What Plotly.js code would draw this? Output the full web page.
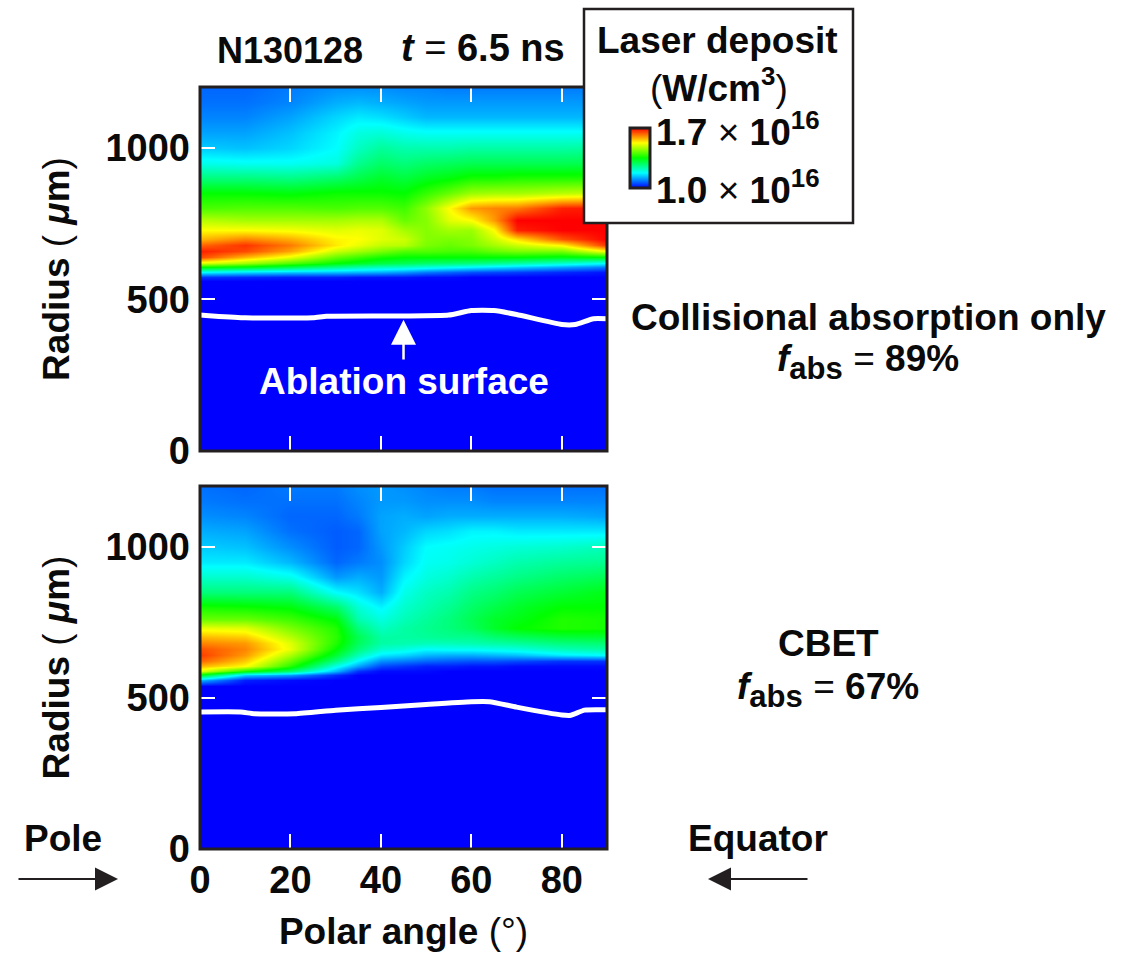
<!DOCTYPE html>
<html><head><meta charset="utf-8">
<script src="https://cdn.plot.ly/plotly-3.0.1.min.js"></script>
<style>html,body{margin:0;padding:0;background:#fff}#plot{width:1127px;height:953px}</style>
</head><body><div id="plot"></div>
<script>
// Polar angle samples (deg) and radius samples (um)
const angles = [0,10,20,30,35,40,45,50,55,60,65,70,80,90];
const radii  = [0,540,560,575,590,605,620,640,660,680,700,730,760,800,850,900,950,1000,1050,1100,1150,1200];

// Laser deposition as a fraction of the 1.0-1.7e16 scale; one row per polar angle
const collisional = [
 [0,0,0,.05,.25,.5,.72,.93,.97,.9,.82,.75,.68,.57,.5,.38,.27,.2,.16,.13,.11,.1],
 [0,0,0,.04,.22,.47,.66,.82,.93,.95,.87,.75,.66,.58,.5,.38,.26,.19,.16,.13,.11,.1],
 [0,0,0,.03,.2,.42,.58,.73,.84,.88,.83,.74,.66,.58,.49,.37,.26,.21,.19,.16,.13,.12],
 [0,0,0,.03,.19,.36,.5,.6,.7,.77,.76,.72,.66,.57,.51,.4,.28,.25,.24,.21,.17,.14],
 [0,0,0,.02,.18,.33,.47,.56,.66,.73,.75,.73,.67,.58,.51,.43,.36,.31,.28,.23,.18,.14],
 [0,0,0,.02,.17,.31,.44,.52,.62,.69,.72,.72,.67,.58,.51,.46,.4,.35,.29,.22,.17,.14],
 [0,0,0,.02,.15,.3,.42,.5,.58,.68,.7,.66,.6,.56,.5,.44,.38,.33,.27,.2,.16,.13],
 [0,0,0,.01,.12,.28,.4,.5,.58,.62,.63,.63,.63,.64,.55,.47,.4,.33,.26,.18,.15,.13],
 [0,0,0,.01,.1,.26,.39,.5,.57,.6,.62,.66,.72,.75,.6,.49,.41,.33,.26,.18,.15,.12],
 [0,0,0,0,.08,.24,.38,.5,.57,.62,.63,.65,.75,.85,.65,.52,.42,.34,.26,.18,.15,.12],
 [0,0,0,0,.07,.22,.36,.5,.6,.66,.7,.75,.85,.87,.66,.52,.42,.34,.26,.18,.15,.12],
 [0,0,0,0,.06,.2,.34,.5,.62,.7,.78,.97,1,.88,.66,.53,.42,.34,.26,.18,.15,.12],
 [0,0,0,0,.04,.16,.3,.48,.62,.76,.92,1,1,.97,.68,.53,.42,.34,.26,.18,.15,.12],
 [0,0,0,0,.02,.12,.25,.5,.75,.95,1,1,1,.98,.7,.53,.43,.35,.26,.18,.15,.12]
];
const cbet = [
 [0,0,.18,.47,.72,.82,.9,.94,.92,.87,.82,.73,.6,.52,.38,.3,.23,.2,.17,.14,.12,.11],
 [0,0,.03,.2,.52,.75,.8,.85,.87,.85,.8,.72,.6,.51,.38,.3,.23,.19,.16,.13,.11,.1],
 [0,0,.01,.15,.4,.54,.6,.67,.73,.72,.68,.62,.56,.49,.38,.27,.18,.14,.11,.1,.11,.12],
 [0,0,0,.04,.18,.27,.37,.45,.5,.53,.54,.53,.49,.4,.25,.15,.1,.09,.09,.1,.11,.12],
 [0,0,0,0,.05,.16,.24,.32,.38,.41,.42,.38,.33,.29,.22,.17,.12,.1,.1,.12,.13,.14],
 [0,0,0,0,.01,.07,.14,.23,.3,.34,.34,.31,.28,.24,.17,.15,.14,.15,.16,.16,.15,.15],
 [0,0,0,0,.01,.05,.12,.21,.28,.33,.34,.34,.32,.3,.27,.24,.21,.2,.18,.17,.15,.14],
 [0,0,0,0,.01,.03,.1,.18,.25,.32,.35,.36,.35,.33,.31,.28,.26,.25,.21,.16,.14,.13],
 [0,0,0,0,0,.03,.09,.17,.26,.32,.36,.38,.38,.36,.33,.3,.27,.26,.22,.17,.14,.12],
 [0,0,0,0,0,.02,.08,.17,.26,.33,.36,.41,.42,.4,.37,.33,.29,.27,.24,.17,.14,.12],
 [0,0,0,0,0,.02,.08,.18,.27,.34,.39,.46,.46,.43,.39,.35,.31,.28,.24,.17,.13,.11],
 [0,0,0,0,0,.01,.07,.19,.28,.35,.41,.5,.48,.46,.42,.37,.33,.29,.23,.17,.13,.11],
 [0,0,0,0,0,.01,.05,.23,.32,.38,.44,.53,.53,.5,.45,.4,.35,.3,.23,.17,.13,.11],
 [0,0,0,0,0,.01,.05,.25,.34,.39,.45,.52,.52,.5,.48,.42,.36,.32,.23,.16,.13,.11]
];

// Ablation surface radius (um) vs polar angle
const surfTopAngle = [0,2,10,25,28,45,55,60,65,70,80,83,87,90];
const surfTopRadius = [448,446,439,439,444,445,448,463,463,450,417,417,436,436];
const surfBotAngle = [0,9,12,21,30,40,50,60,64,70,80,82,85,90];
const surfBotRadius = [453,453,447,447,459,468,478,487,487,469,443,442,459,460];

const W = 1127, H = 953;
const px = v => v / W, py = v => 1 - v / H;
const FONT = 'Liberation Sans, Arial, sans-serif';
const INK = '#0a0a0a', FRAME = '#231f20';
const scale = [[0,'rgb(0,0,255)'],[.25,'rgb(0,255,255)'],[.5,'rgb(0,255,0)'],[.75,'rgb(255,255,0)'],[1,'rgb(255,0,0)']];
const toUnits = a => a.map(c => c.map(v => 1 + 0.7 * v));

function heat(byAngle, xa, ya, showscale) {
  const z = toUnits(radii.map((_, i) => byAngle.map(col => col[i])));
  return {type:'heatmap', x:angles, y:radii, z, xaxis:xa, yaxis:ya,
    zsmooth:'best', zmin:1, zmax:1.7, colorscale:scale, showscale:showscale, hoverinfo:'skip',
    colorbar: showscale ? {thickness:20, thicknessmode:'pixels', len:60, lenmode:'pixels',
      x:px(630), xanchor:'left', y:py(158), yanchor:'middle', xpad:0, ypad:0,
      showticklabels:false, ticks:'', outlinecolor:FRAME, outlinewidth:3, borderwidth:0} : undefined};
}
function surf(x, y, xa, ya) {
  return {type:'scatter', mode:'lines', x, y, xaxis:xa, yaxis:ya, hoverinfo:'skip',
    line:{color:'#fff', width:5, shape:'spline', smoothing:0.5}, showlegend:false};
}
const data = [
  heat(collisional,'x','y',true), surf(surfTopAngle,surfTopRadius,'x','y'),
  heat(cbet,'x2','y2',false), surf(surfBotAngle,surfBotRadius,'x2','y2')
];

const tickFont = {family:FONT, size:38, color:INK, weight:700};
const xBase = {range:[0,90], domain:[px(200),px(607)], tickmode:'array', tickvals:[0,20,40,60,80], ticktext:['0','20','40','60','80'],
  ticks:'inside', ticklen:15, tickwidth:2, tickcolor:'#fff', mirror:'allticks', showline:false, showgrid:false, zeroline:false, tickfont:tickFont, ticklabelstandoff:5};
const radiusTitle = {text:'<b>Radius</b> (<b><i> μ</i>m</b>)', font:{family:FONT,size:37,color:INK}, standoff:24};
const yBase = {range:[0,1200], tickmode:'array', tickvals:[0,500,1000], ticktext:['0','500','1000'],
  ticks:'inside', ticklen:15, tickwidth:2, tickcolor:'#fff', mirror:'allticks', showline:false, showgrid:false, zeroline:false, tickfont:tickFont, ticklabelstandoff:9, title:radiusTitle};

function label(text, x, y, extra) {
  return Object.assign({text, xref:'paper', yref:'paper', x:px(x), y:py(y), xanchor:'center', yanchor:'middle',
    showarrow:false, font:{family:FONT,size:37,color:INK}}, extra || {});
}
function arrow(x, y, dx) {
  return {text:'', xref:'paper', yref:'paper', x:px(x), y:py(y), ax:dx, ay:0, showarrow:true,
    arrowhead:2, arrowsize:2.3, arrowwidth:2, arrowcolor:FRAME, standoff:0};
}
const fabs = '<b><i>f</i><sub><span style="font-size:120%">abs</span></sub></b>';
const annotations = [
  label('<b>N130128</b>', 290, 50, {font:{family:FONT,size:36,color:INK}}),
  label('<b><i>t</i></b> = <b>6.5 ns</b>', 483, 48, {font:{family:FONT,size:38,color:INK}}),
  label('<b>Laser deposit</b>', 718, 41),
  label('(<b>W/cm<sup>3</sup></b>)', 719, 85),
  label('<b>1.7</b> × <b>10<sup>16</sup></b>', 738, 130),
  label('<b>1.0</b> × <b>10<sup>16</sup></b>', 738, 187),
  label('<b>Collisional absorption only</b>', 869, 317),
  label(fabs + ' = <b>89%</b>', 868, 362),
  label('<b>CBET</b>', 828, 643),
  label(fabs + ' = <b>67%</b>', 828, 690),
  label('<b>Pole</b>', 63, 838),
  label('<b>Equator</b>', 758, 838),
  arrow(118, 879, -101),
  arrow(708, 879, 101),
  label('<b>Ablation surface</b>', 404, 381, {font:{family:FONT,size:37,color:'#fff'}}),
  {text:'', xref:'x', yref:'y', axref:'x', ayref:'y', x:45, y:433, ax:45, ay:297, showarrow:true,
   arrowhead:2, arrowsize:2, arrowwidth:2.5, arrowcolor:'#fff', standoff:0}
];
const rect = (x0,y0,x1,y1,fill,w) => ({type:'rect', xref:'paper', yref:'paper', x0:px(x0), x1:px(x1), y0:py(y0), y1:py(y1),
  line:{color:FRAME,width:w}, fillcolor:fill, layer:'above'});

const layout = {
  width:W, height:H, margin:{l:0,r:0,t:0,b:0}, paper_bgcolor:'#fff', plot_bgcolor:'#00f', showlegend:false,
  font:{family:FONT},
  xaxis:Object.assign({}, xBase, {anchor:'y', showticklabels:false}),
  yaxis:Object.assign({}, yBase, {domain:[py(451),py(87)], anchor:'x'}),
  xaxis2:Object.assign({}, xBase, {anchor:'y2', title:{text:'<b>Polar angle</b> (°)', font:{family:FONT,size:37,color:INK}, standoff:18}}),
  yaxis2:Object.assign({}, yBase, {domain:[py(849),py(486)], anchor:'x2'}),
  annotations,
  shapes:[
    rect(200,87,607,451,'rgba(0,0,0,0)',3),
    rect(200,486,607,849,'rgba(0,0,0,0)',3),
    rect(584,9,853,223,'#fff',2.5)
  ]
};
Plotly.newPlot('plot', data, layout, {displayModeBar:false, staticPlot:true});
</script></body></html>
